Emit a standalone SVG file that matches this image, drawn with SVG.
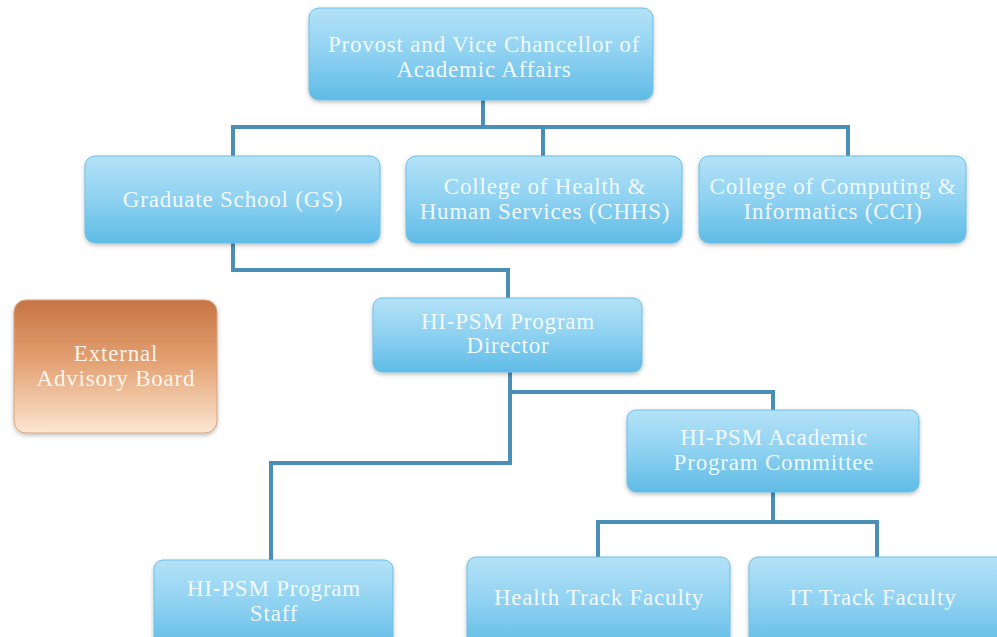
<svg xmlns="http://www.w3.org/2000/svg" width="997" height="637" viewBox="0 0 997 637">
<defs>
<linearGradient id="blue" x1="0" y1="0" x2="0" y2="1">
<stop offset="0" stop-color="#b4e2f7"/>
<stop offset="0.5" stop-color="#8ed1f1"/>
<stop offset="1" stop-color="#5fbbe6"/>
</linearGradient>
<linearGradient id="orange" x1="0" y1="0" x2="0" y2="1">
<stop offset="0" stop-color="#c67445"/>
<stop offset="0.45" stop-color="#e3a070"/>
<stop offset="1" stop-color="#fbe6d2"/>
</linearGradient>
<filter id="sh" x="-10%" y="-10%" width="120%" height="130%">
<feDropShadow dx="0" dy="2" stdDeviation="2" flood-color="#000" flood-opacity="0.25"/>
</filter>
</defs>
<style>
.b{fill:url(#blue);stroke:#6cbfe6;stroke-width:1;filter:url(#sh)}
.o{fill:url(#orange);stroke:#d9a27c;stroke-width:1;filter:url(#sh)}
text{font-family:"Liberation Serif","DejaVu Serif",serif;font-size:23px;letter-spacing:0.8px;fill:#ffffff;fill-opacity:0.9;text-anchor:middle}
.c path{fill:none;stroke:#4b8fb9;stroke-width:4}
</style>
<rect width="997" height="637" fill="#ffffff"/>
<g class="c" id="connectors">
<path d="M483,100 V127 M233,127 H848 M233,125 V157 M543,125 V157 M848,125 V157"/>
<path d="M233,243 V270 H508 V298"/>
<path d="M510,372 V463 H271 V560"/>
<path d="M510,392 H773 V410"/>
<path d="M773,492 V522 M598,522 H877 M598,520 V557 M877,520 V557"/>
</g>
<g id="provost"><rect class="b" x="309" y="8" width="344" height="92" rx="10"/><text x="484" y="52">Provost and Vice Chancellor of</text><text x="484" y="77">Academic Affairs</text></g>
<g id="gs"><rect class="b" x="85" y="156" width="295" height="87" rx="10"/><text x="233" y="207">Graduate School (GS)</text></g>
<g id="chhs"><rect class="b" x="406" y="156" width="276" height="87" rx="10"/><text x="545" y="194">College of Health &amp;</text><text x="545" y="219">Human Services (CHHS)</text></g>
<g id="cci"><rect class="b" x="699" y="156" width="267" height="87" rx="10"/><text x="833" y="194">College of Computing &amp;</text><text x="833" y="219">Informatics (CCI)</text></g>
<g id="eab"><rect class="o" x="14" y="300" width="203" height="133" rx="12"/><text x="116" y="361">External</text><text x="116" y="386">Advisory Board</text></g>
<g id="director"><rect class="b" x="373" y="298" width="269" height="74" rx="9"/><text x="508" y="329">HI-PSM Program</text><text x="508" y="353">Director</text></g>
<g id="committee"><rect class="b" x="627" y="410" width="292" height="82" rx="9"/><text x="774" y="445">HI-PSM Academic</text><text x="774" y="470">Program Committee</text></g>
<g id="staff"><rect class="b" x="154" y="560" width="239" height="90" rx="9"/><text x="274" y="596">HI-PSM Program</text><text x="274" y="621">Staff</text></g>
<g id="health"><rect class="b" x="467" y="557" width="263" height="93" rx="9"/><text x="599" y="605">Health Track Faculty</text></g>
<g id="it"><rect class="b" x="749" y="557" width="260" height="93" rx="9"/><text x="873" y="605">IT Track Faculty</text></g>
</svg>
